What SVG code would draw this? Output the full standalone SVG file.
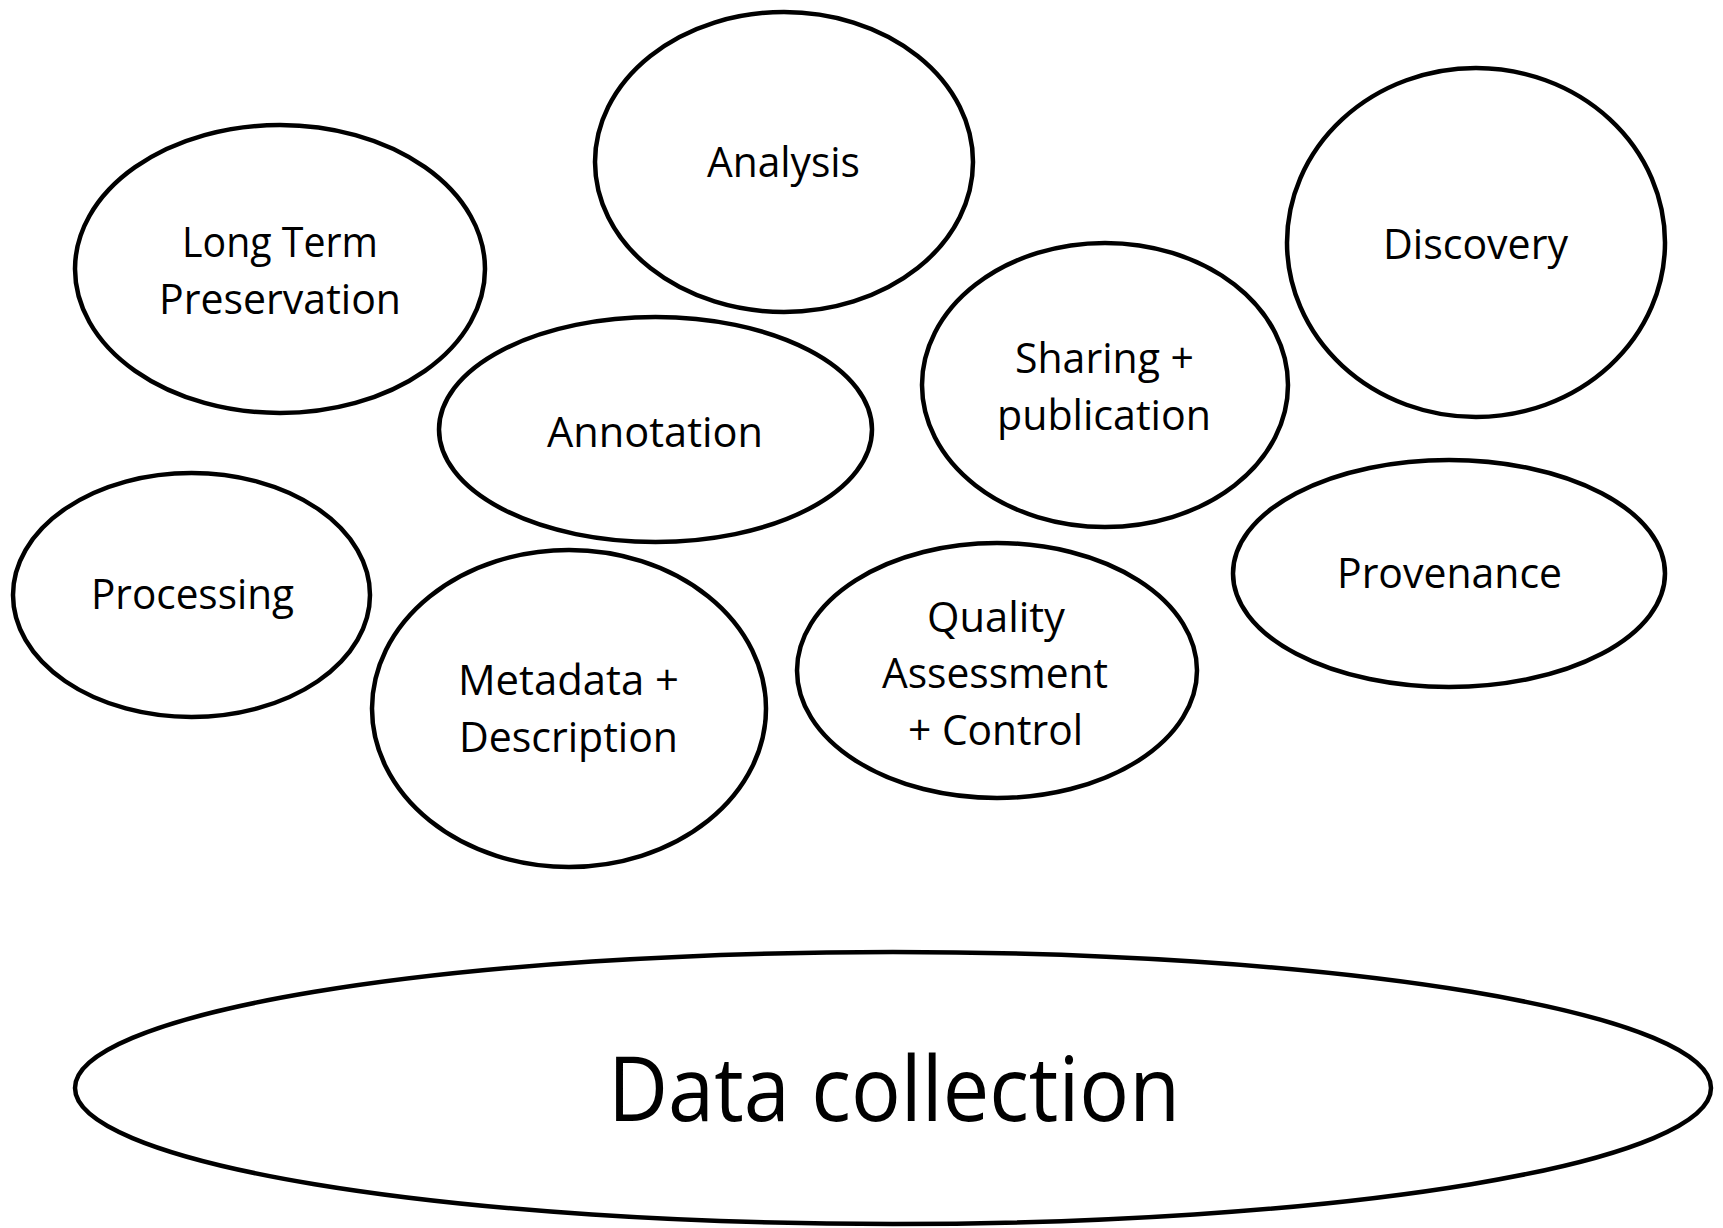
<svg xmlns="http://www.w3.org/2000/svg" width="1723" height="1228" viewBox="0 0 1723 1228">
<style>
.n{fill:#fff;stroke:#000;stroke-width:4.5}
.t{font-family:"Open Sans","Noto Sans","DejaVu Sans",sans-serif;font-size:42px;fill:#000;text-anchor:middle}
.big{font-size:90px}
</style>
<rect width="1723" height="1228" fill="#fff"/>
<g id="connectors"></g>
<g id="analysis"><ellipse class="n" cx="784" cy="162" rx="189" ry="150"/><text class="t" x="783.5" y="177" textLength="153" lengthAdjust="spacingAndGlyphs">Analysis</text></g>
<g id="long-term-preservation"><ellipse class="n" cx="280" cy="269" rx="205" ry="144"/><text class="t" x="280" y="257" textLength="196" lengthAdjust="spacingAndGlyphs">Long Term</text><text class="t" x="280" y="314" textLength="242" lengthAdjust="spacingAndGlyphs">Preservation</text></g>
<g id="discovery"><ellipse class="n" cx="1476" cy="242.5" rx="189" ry="174.5"/><text class="t" x="1475.5" y="259" textLength="185" lengthAdjust="spacingAndGlyphs">Discovery</text></g>
<g id="annotation"><ellipse class="n" cx="655.5" cy="429.5" rx="216.5" ry="112.5"/><text class="t" x="655" y="447" textLength="216" lengthAdjust="spacingAndGlyphs">Annotation</text></g>
<g id="sharing-publication"><ellipse class="n" cx="1105" cy="385" rx="183" ry="142"/><text class="t" x="1104.5" y="373" textLength="179" lengthAdjust="spacingAndGlyphs">Sharing +</text><text class="t" x="1104" y="430" textLength="214" lengthAdjust="spacingAndGlyphs">publication</text></g>
<g id="processing"><ellipse class="n" cx="191.5" cy="595" rx="178.5" ry="122"/><text class="t" x="192.5" y="609" textLength="203" lengthAdjust="spacingAndGlyphs">Processing</text></g>
<g id="metadata-description"><ellipse class="n" cx="569" cy="708.5" rx="197" ry="158.5"/><text class="t" x="568.5" y="695" textLength="221" lengthAdjust="spacingAndGlyphs">Metadata +</text><text class="t" x="568.5" y="752" textLength="219" lengthAdjust="spacingAndGlyphs">Description</text></g>
<g id="quality-assessment-control"><ellipse class="n" cx="997" cy="670.5" rx="200" ry="127.5"/><text class="t" x="996" y="632" textLength="138" lengthAdjust="spacingAndGlyphs">Quality</text><text class="t" x="995" y="688" textLength="226" lengthAdjust="spacingAndGlyphs">Assessment</text><text class="t" x="995.5" y="745" textLength="175" lengthAdjust="spacingAndGlyphs">+ Control</text></g>
<g id="provenance"><ellipse class="n" cx="1449" cy="573.5" rx="216" ry="113.5"/><text class="t" x="1449.5" y="588" textLength="225" lengthAdjust="spacingAndGlyphs">Provenance</text></g>
<g id="data-collection"><ellipse class="n" cx="893" cy="1088" rx="818" ry="136"/><text class="t big" x="894" y="1121" textLength="572" lengthAdjust="spacingAndGlyphs">Data collection</text></g>
</svg>
